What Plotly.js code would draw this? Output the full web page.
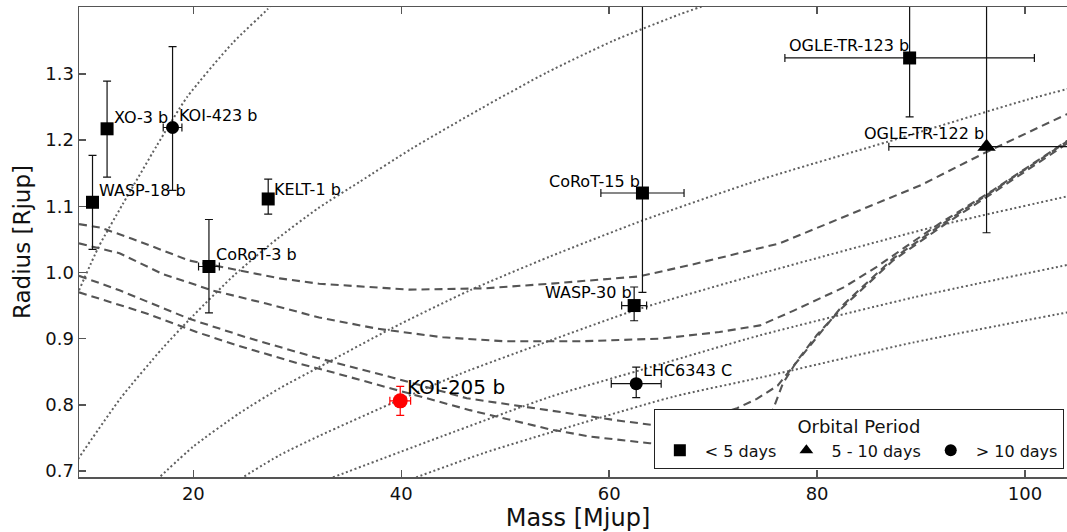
<!DOCTYPE html>
<html>
<head>
<meta charset="utf-8">
<script src="https://cdn.plot.ly/plotly-3.0.1.min.js"></script>
<style>
  html, body { margin: 0; padding: 0; background: #fff; overflow: hidden; }
  #chart { width: 1117px; height: 532px; }
</style>
</head>
<body>
<div id="chart"></div>
<script>
// ---------------- data ----------------
const xRange = [9, 105];
const yRange = [0.691, 1.401];
const xTickVals = [20, 40, 60, 80, 100];
const xTickText = ['20', '40', '60', '80', '100'];
const yTickVals = [0.7, 0.8, 0.9, 1.0, 1.1, 1.2, 1.3];
const yTickText = ['0.7', '0.8', '0.9', '1.0', '1.1', '1.2', '1.3'];

// iso-density (dotted) curves
const dot1M = [9, 10.9, 13.2, 16.5, 19.4, 23.8, 27.1, 27.5];
const dot1R = [0.973, 1.039, 1.103, 1.192, 1.265, 1.347, 1.397, 1.404];
const dot2M = [8.9, 13, 17, 20, 24, 28, 32, 36, 41, 47.6, 54, 60.4, 66.8, 69.5];
const dot2R = [0.718, 0.81, 0.885, 0.935, 0.997, 1.05, 1.097, 1.137, 1.187, 1.247, 1.302, 1.35, 1.39, 1.405];
const dot3M = [16.5, 20, 24.4, 28.3, 32.1, 39, 46.6, 54.3, 63.3, 74.5, 86.7, 100.2, 105.5];
const dot3R = [0.687, 0.737, 0.787, 0.825, 0.857, 0.915, 0.973, 1.024, 1.079, 1.14, 1.197, 1.261, 1.283];
const dot4M = [24.5, 28.3, 32.1, 39.9, 45.7, 54.3, 62.7, 74.5, 91.8, 105.5];
const dot4R = [0.688, 0.724, 0.753, 0.808, 0.847, 0.897, 0.944, 0.998, 1.071, 1.12];
const dot5M = [33, 44, 54.3, 62.9, 74.5, 89.2, 105.5];
const dot5R = [0.688, 0.753, 0.812, 0.852, 0.905, 0.962, 1.016];
const dot6M = [41, 47.9, 54.3, 66.1, 74.5, 89.2, 105.5];
const dot6R = [0.688, 0.727, 0.758, 0.812, 0.841, 0.894, 0.944];

// isochrones (dashed) curves
const dashAM = [9, 11, 14.1, 19.6, 23.5, 28.3, 32.1, 40.8, 48, 54.3, 62.9, 68, 76.4, 84.1, 90, 96.3, 105.5];
const dashAR = [1.073, 1.068, 1.051, 1.018, 1.006, 0.991, 0.983, 0.974, 0.976, 0.983, 0.994, 1.012, 1.044, 1.094, 1.132, 1.182, 1.25];
const dashBM = [9, 12.9, 17, 21.8, 27, 32.1, 37.7, 44, 50, 57.2, 64.9, 70.6, 74.5, 77.7, 82.5, 85.7, 89, 91.8, 96.9, 105.5];
const dashBR = [1.044, 1.029, 0.998, 0.973, 0.953, 0.932, 0.915, 0.902, 0.896, 0.896, 0.9, 0.91, 0.92, 0.942, 0.977, 1.008, 1.044, 1.074, 1.124, 1.214];
const dashCM = [9, 12.9, 19.6, 25.1, 31.9, 39.2, 46.3, 54.3, 61, 64, 68, 72.3, 74.2, 76.2, 77.7, 80.3, 82.5, 87.3, 92.5, 96.9, 105.5];
const dashCR = [0.995, 0.973, 0.93, 0.902, 0.871, 0.841, 0.81, 0.791, 0.776, 0.77, 0.772, 0.795, 0.809, 0.829, 0.858, 0.91, 0.951, 1.021, 1.078, 1.123, 1.213];
const dashDM = [9, 15.5, 20.3, 24.4, 30.2, 32.5, 39.2, 46.6, 54.3, 58.2, 63.9, 70, 74, 75.2, 76.7, 78.1, 80, 82.5, 87.3, 92.5, 96.9, 105.5];
const dashDR = [0.97, 0.938, 0.91, 0.889, 0.862, 0.853, 0.824, 0.792, 0.763, 0.752, 0.742, 0.737, 0.742, 0.77, 0.832, 0.867, 0.906, 0.948, 1.018, 1.075, 1.12, 1.21];

// planets / brown dwarfs, period < 5 days (squares)
const sqNames = ['WASP-18 b', 'XO-3 b', 'KELT-1 b', 'CoRoT-3 b', 'WASP-30 b', 'CoRoT-15 b', 'OGLE-TR-123 b'];
const sqMass = [10.3, 11.7, 27.2, 21.5, 62.4, 63.2, 88.9];
const sqMassErr = [0.4, 0.5, 0.5, 1.0, 1.2, 4.0, 12.0];
const sqRad = [1.106, 1.217, 1.111, 1.009, 0.95, 1.12, 1.324];
const sqRadErrPlus = [0.071, 0.072, 0.03, 0.071, 0.028, 0.30, 0.09];
const sqRadErrMinus = [0.071, 0.073, 0.023, 0.07, 0.023, 0.15, 0.089];

// period 5 - 10 days (triangle)
const triNames = ['OGLE-TR-122 b'];
const triMass = [96.3];
const triMassErr = [9.4];
const triRad = [1.19];
const triRadErrPlus = [0.23];
const triRadErrMinus = [0.13];

// period > 10 days (circles)
const circNames = ['KOI-423 b', 'LHC6343 C'];
const circMass = [18.0, 62.6];
const circMassErr = [0.9, 2.4];
const circRad = [1.219, 0.832];
const circRadErrPlus = [0.122, 0.025];
const circRadErrMinus = [0.095, 0.021];

// KOI-205 b (highlighted)
const koiNames = ['KOI-205 b'];
const koiMass = [39.9];
const koiMassErr = [1.0];
const koiRad = [0.806];
const koiRadErr = [0.022];

const legendLabels = ['< 5 days', '5 - 10 days', '> 10 days'];
const legendTitle = 'Orbital Period';

// ---------------- styles ----------------
const FONT = 'DejaVu Sans, Verdana, sans-serif';
const dotStyle = { color: '#606060', width: 2, dash: '2px,2.6px', shape: 'spline', smoothing: 0.6 };
const dashStyle = { color: '#555', width: 2.1, dash: '8px,5px', shape: 'linear' };

const labelStyle = {
  'WASP-18 b':     { anchor: 'left',  dx: 4,  dy: 12, size: 16 },
  'XO-3 b':        { anchor: 'left',  dx: 5,  dy: 11, size: 16 },
  'KELT-1 b':      { anchor: 'left',  dx: 4,  dy: 9,  size: 16 },
  'CoRoT-3 b':     { anchor: 'left',  dx: 5,  dy: 12, size: 16 },
  'WASP-30 b':     { anchor: 'right', dx: 0,  dy: 13, size: 16 },
  'CoRoT-15 b':    { anchor: 'right', dx: 0,  dy: 12, size: 16 },
  'OGLE-TR-123 b': { anchor: 'right', dx: 1,  dy: 12, size: 16 },
  'OGLE-TR-122 b': { anchor: 'right', dx: -1, dy: 13, size: 16 },
  'KOI-423 b':     { anchor: 'left',  dx: 4,  dy: 12, size: 16 },
  'LHC6343 C':     { anchor: 'left',  dx: 5,  dy: 13, size: 16 },
  'KOI-205 b':     { anchor: 'left',  dx: 5,  dy: 14, size: 20 }
};

// ---------------- traces ----------------
const traces = [];
[[dot1M, dot1R], [dot2M, dot2R], [dot3M, dot3R], [dot4M, dot4R], [dot5M, dot5R], [dot6M, dot6R]].forEach(p => {
  traces.push({ x: p[0], y: p[1], mode: 'lines', line: dotStyle, showlegend: false, hoverinfo: 'skip' });
});
[[dashAM, dashAR], [dashBM, dashBR], [dashCM, dashCR], [dashDM, dashDR]].forEach(p => {
  traces.push({ x: p[0], y: p[1], mode: 'lines', line: dashStyle, showlegend: false, hoverinfo: 'skip' });
});

function errTrace(x, y, ex, eyp, eym, color) {
  return {
    x: x, y: y, mode: 'markers', showlegend: false, hoverinfo: 'skip',
    marker: { size: 1, color: 'rgba(0,0,0,0)' },
    error_x: { type: 'data', array: ex, visible: true, color: color, thickness: 1.2, width: 4 },
    error_y: { type: 'data', symmetric: false, array: eyp, arrayminus: eym, visible: true, color: color, thickness: 1.2, width: 4 }
  };
}
traces.push(errTrace(sqMass, sqRad, sqMassErr, sqRadErrPlus, sqRadErrMinus, '#111'));
traces.push(errTrace(triMass, triRad, triMassErr, triRadErrPlus, triRadErrMinus, '#111'));
traces.push(errTrace(circMass, circRad, circMassErr, circRadErrPlus, circRadErrMinus, '#111'));
traces.push(errTrace(koiMass, koiRad, koiMassErr, koiRadErr, koiRadErr, '#ff0000'));

traces.push({ x: sqMass, y: sqRad, text: sqNames, mode: 'markers', name: legendLabels[0],
  marker: { symbol: 'square', size: 13, color: '#000', line: { width: 0 } } });
traces.push({ x: triMass, y: triRad, text: triNames, mode: 'markers', name: legendLabels[1],
  marker: { symbol: 'triangle-up', size: 16, color: '#000', line: { width: 0 } } });
traces.push({ x: circMass, y: circRad, text: circNames, mode: 'markers', name: legendLabels[2],
  marker: { symbol: 'circle', size: 13, color: '#000', line: { width: 0 } } });
traces.push({ x: koiMass, y: koiRad, text: koiNames, mode: 'markers', showlegend: false,
  marker: { symbol: 'circle', size: 15, color: '#ff0000', line: { width: 0 } } });

// ---------------- labels ----------------
const annotations = [];
function addLabels(names, xs, ys) {
  names.forEach((n, i) => {
    const s = labelStyle[n];
    annotations.push({
      x: xs[i], y: ys[i], xref: 'x', yref: 'y', text: n, showarrow: false,
      xanchor: s.anchor, yanchor: 'middle', xshift: s.dx, yshift: s.dy,
      font: { family: FONT, size: s.size, color: '#000' }
    });
  });
}
addLabels(sqNames, sqMass, sqRad);
addLabels(triNames, triMass, triRad);
addLabels(circNames, circMass, circRad);
addLabels(koiNames, koiMass, koiRad);

// ---------------- layout ----------------
const axisCommon = {
  showgrid: false, zeroline: false, showline: true, linecolor: '#555', linewidth: 1.5,
  mirror: 'ticks', ticks: 'inside', ticklen: 7, tickwidth: 1.5, tickcolor: '#555',
  tickfont: { family: FONT, size: 18, color: '#111' }
};
const layout = {
  width: 1117, height: 532,
  margin: { l: 79, r: 40, t: 7, b: 55 },
  paper_bgcolor: '#fff', plot_bgcolor: '#fff',
  font: { family: FONT, color: '#111' },
  xaxis: Object.assign({}, axisCommon, {
    range: xRange, tickmode: 'array', tickvals: xTickVals, ticktext: xTickText,
    title: { text: 'Mass [Mjup]', font: { family: FONT, size: 24, color: '#111' }, standoff: 4 }
  }),
  yaxis: Object.assign({}, axisCommon, {
    range: yRange, tickmode: 'array', tickvals: yTickVals, ticktext: yTickText,
    title: { text: 'Radius [Rjup]', font: { family: FONT, size: 23, color: '#111' }, standoff: 8 }
  }),
  showlegend: true,
  legend: {
    orientation: 'h', x: 0.576, y: 0.017, xanchor: 'left', yanchor: 'bottom',
    bgcolor: '#fff', bordercolor: '#222', borderwidth: 1,
    font: { family: FONT, size: 16, color: '#111' },
    title: { text: legendTitle, side: 'top center', font: { family: FONT, size: 18, color: '#111' } },
    itemwidth: 40, itemsizing: 'constant', traceorder: 'normal'
  },
  annotations: annotations
};

Plotly.newPlot('chart', traces, layout, { displayModeBar: false, staticPlot: true });
</script>
</body>
</html>
